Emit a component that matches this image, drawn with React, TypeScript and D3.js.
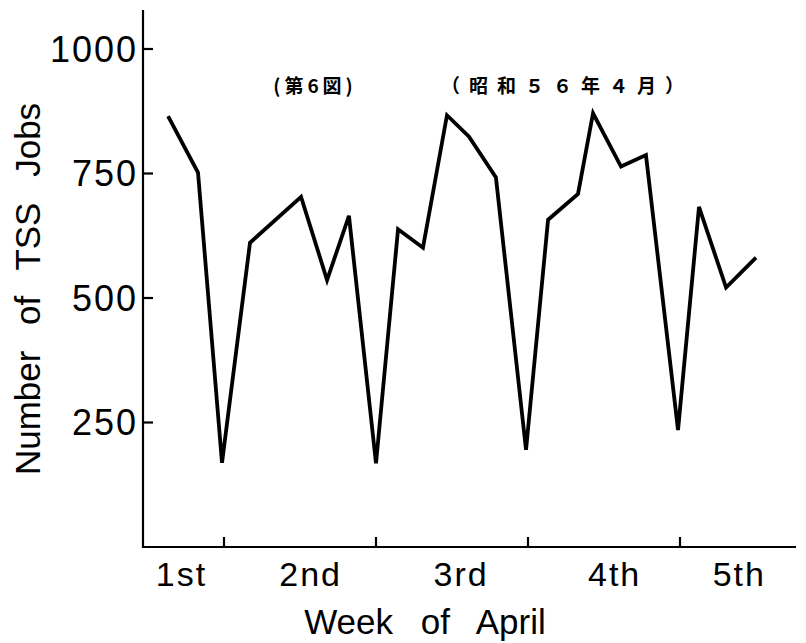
import React from "react";
import * as d3 from "d3";

// Position of each daily observation, in weeks of April (week boundaries at 1,2,3,4)
const positions: number[] = [
  0.632, 0.829, 0.987, 1.171, 1.507, 1.678, 1.822, 2.0, 2.145, 2.309, 2.467, 2.612,
  2.789, 2.987, 3.132, 3.329, 3.428, 3.612, 3.776, 3.987, 4.125, 4.303, 4.5,
];
// Number of TSS jobs
const jobs: number[] = [
  865, 752, 169, 611, 703, 536, 665, 168, 638, 601, 867, 824,
  742, 195, 657, 709, 871, 764, 787, 235, 683, 521, 581,
];
const weekBoundaries: number[] = [1, 2, 3, 4];
const weekLabels: string[] = ["1st", "2nd", "3rd", "4th", "5th"];
const weekLabelAt: number[] = [0.72, 1.57, 2.56, 3.57, 4.39];
const yTicks: number[] = [250, 500, 750, 1000];
const figureLabel = "(第6図)";
const dateLabel = "（昭和５６年４月）";

const W = 806;
const H = 643;

export default function App() {
  const x = d3.scaleLinear().domain([1, 2]).range([224, 376]);
  const y = d3.scaleLinear().domain([0, 1000]).range([547, 49]);
  const x0 = x.invert(143);
  const x1 = x.invert(796);
  const axisX = x(x0);
  const axisY = y(0);
  const yTop = y(y.invert(10));

  const data = positions.map((p, i) => ({ p, v: jobs[i] }));
  const line = d3
    .line<{ p: number; v: number }>()
    .x((d) => x(d.p))
    .y((d) => y(d.v));

  const latin = "'Liberation Sans', Arial, Helvetica, sans-serif";
  const cjk = "'Noto Sans CJK JP', 'Noto Sans CJK SC', sans-serif";

  return (
    <svg
      width={W}
      height={H}
      viewBox={`0 0 ${W} ${H}`}
      style={{ position: "absolute", left: 0, top: 0, background: "#fff" }}
    >
      {/* axes */}
      <line x1={axisX} y1={yTop} x2={axisX} y2={axisY + 1} stroke="#000" strokeWidth={2.2} />
      <line x1={axisX - 1} y1={axisY} x2={x(x1)} y2={axisY} stroke="#000" strokeWidth={2.2} />

      {/* y ticks */}
      {yTicks.map((t) => (
        <g key={t}>
          <line x1={axisX} y1={y(t)} x2={axisX + 10} y2={y(t)} stroke="#000" strokeWidth={2.2} />
          <text
            x={axisX - 5}
            y={y(t)}
            dy="0.36em"
            textAnchor="end"
            fontFamily={latin}
            fontSize={36}
            letterSpacing={2}
            fill="#000"
          >
            {t}
          </text>
        </g>
      ))}

      {/* x ticks */}
      {weekBoundaries.map((b) => (
        <line key={b} x1={x(b)} y1={axisY} x2={x(b)} y2={axisY - 10} stroke="#000" strokeWidth={2.2} />
      ))}
      {weekLabels.map((l, i) => (
        <text
          key={l}
          x={x(weekLabelAt[i])}
          y={axisY + 39}
          textAnchor="middle"
          fontFamily={latin}
          fontSize={34}
          letterSpacing={2}
          fill="#000"
        >
          {l}
        </text>
      ))}

      {/* axis titles */}
      <text
        x={W / 2 + 22}
        y={634}
        textAnchor="middle"
        fontFamily={latin}
        fontSize={35}
        wordSpacing={18}
        fill="#000"
      >
        Week of April
      </text>
      <text
        transform={`translate(40, 289) rotate(-90)`}
        textAnchor="middle"
        fontFamily={latin}
        fontSize={35}
        wordSpacing={16}
        fill="#000"
      >
        Number of TSS Jobs
      </text>

      {/* headers */}
      <text x={315} y={93} textAnchor="middle" fontFamily={cjk} fontSize={19} fontWeight={700} letterSpacing={4} fill="#000">
        {figureLabel}
      </text>
      <text x={567} y={93} textAnchor="middle" fontFamily={cjk} fontSize={19} fontWeight={700} letterSpacing={9} fill="#000">
        {dateLabel}
      </text>

      {/* data line */}
      <path
        d={line(data) || ""}
        fill="none"
        stroke="#000"
        strokeWidth={3.8}
        strokeLinejoin="miter"
        strokeLinecap="butt"
      />
    </svg>
  );
}
